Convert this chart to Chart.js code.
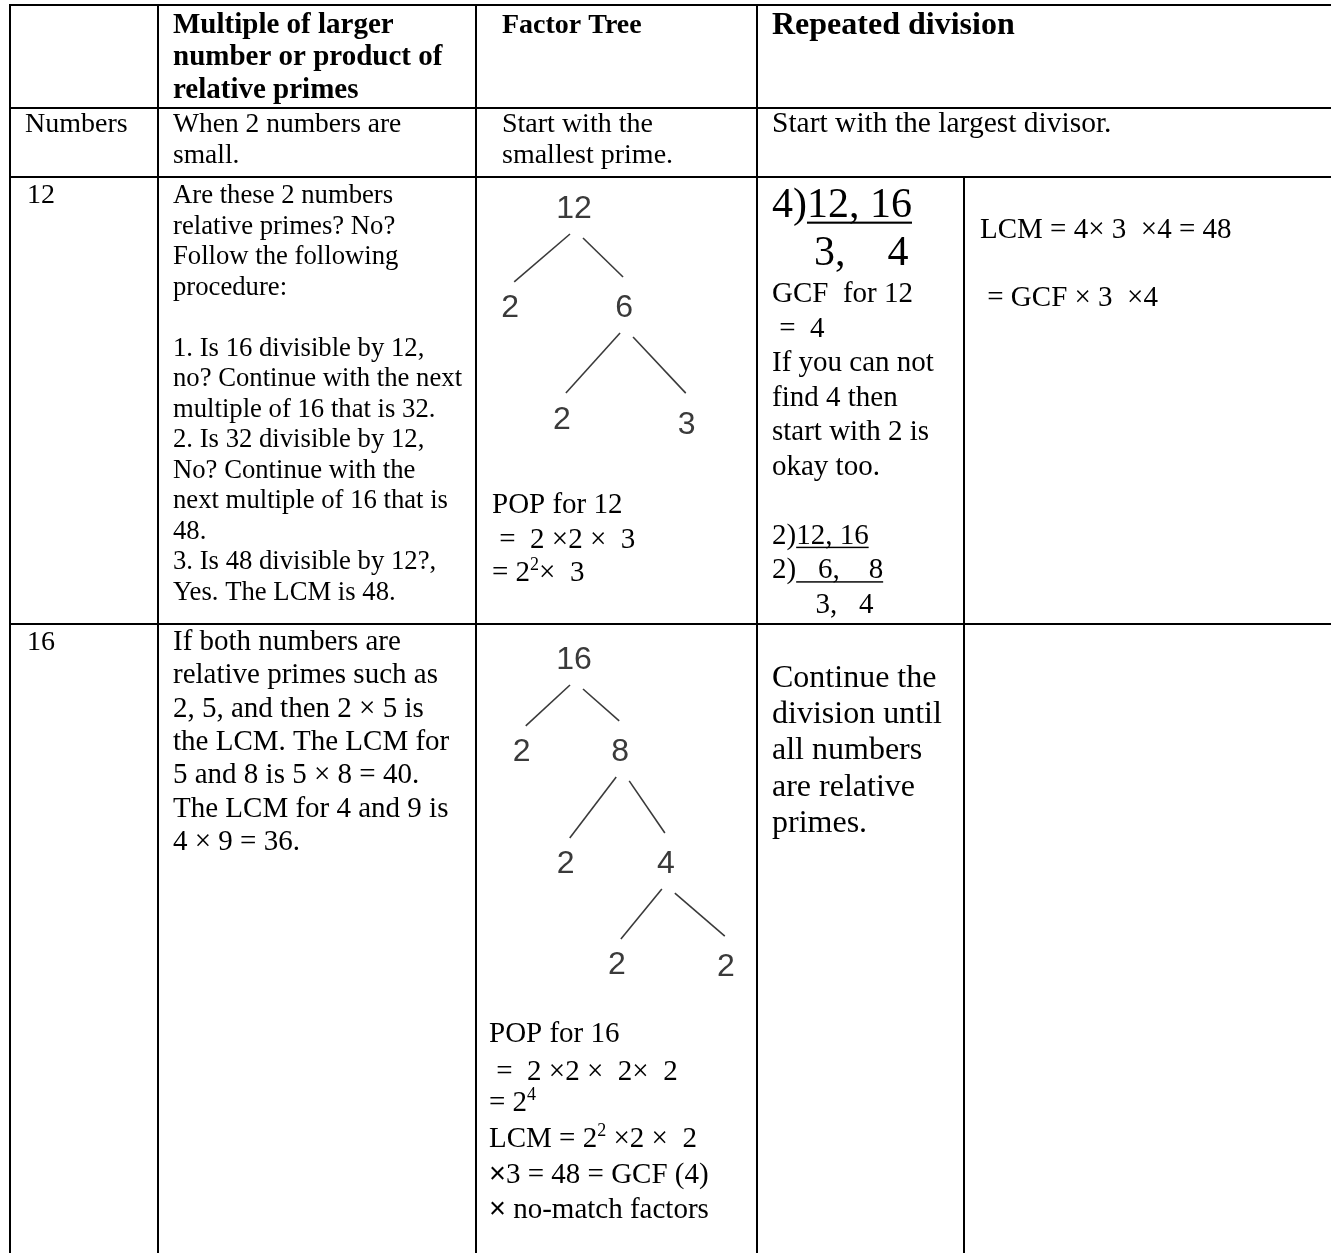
<!DOCTYPE html>
<html>
<head>
<meta charset="utf-8">
<script src="https://cdn.jsdelivr.net/npm/chart.js@4.4.1/dist/chart.umd.min.js"></script>
<style>
  html, body { margin: 0; padding: 0; background: #fff; }
  #wrap { position: relative; width: 1331px; height: 1253px; }
  canvas { display: block; }
</style>
</head>
<body>
<div id="wrap"><canvas id="c" width="1331" height="1253"></canvas></div>
<script>
// ---------------- DATA ----------------
// Text content of the table cells
const headerCol2 = ['Multiple of larger', 'number or product of', 'relative primes'];
const headerCol3 = ['Factor Tree'];
const headerCol4 = ['Repeated division'];

const rowNumbersLabel = ['Numbers'];
const rowNumbersCol2 = ['When 2 numbers are', 'small.'];
const rowNumbersCol3 = ['Start with the', 'smallest prime.'];
const rowNumbersCol4 = ['Start with the largest divisor.'];

const row12Label = ['12'];
const row12Col2 = [
  'Are these 2 numbers', 'relative primes? No?', 'Follow the following', 'procedure:', '',
  '1. Is 16 divisible by 12,', 'no? Continue with the next', 'multiple of 16 that is 32.',
  '2. Is 32 divisible by 12,', 'No? Continue with the', 'next multiple of 16 that is', '48.',
  '3. Is 48 divisible by 12?,', 'Yes. The LCM is 48.'
];
const row12Pop = ['POP for 12', ' =  2 \u00d72 \u00d7  3', [{t:'= 2'}, {t:'2', sup:1}, {t:'\u00d7  3'}]];
const row12DivBig = [[{t:'4)'}, {t:'12, 16', u:1}], '    3,    4'];
const row12DivText = [
  'GCF  for 12', ' =  4', 'If you can not', 'find 4 then', 'start with 2 is', 'okay too.', '',
  [{t:'2)'}, {t:'12, 16', u:1}], [{t:'2)'}, {t:'   6,    8', u:1}], '      3,   4'
];
const row12Lcm = ['LCM = 4\u00d7 3  \u00d74 = 48', '', ' = GCF \u00d7 3  \u00d74'];

const row16Label = ['16'];
const row16Col2 = [
  'If both numbers are', 'relative primes such as', '2, 5, and then 2 \u00d7 5 is',
  'the LCM. The LCM for', '5 and 8 is 5 \u00d7 8 = 40.', 'The LCM for 4 and 9 is', '4 \u00d7 9 = 36.'
];
const row16Pop = [
  'POP for 16', ' =  2 \u00d72 \u00d7  2\u00d7  2', [{t:'= 2'}, {t:'4', sup:1}],
  [{t:'LCM = 2'}, {t:'2', sup:1}, {t:' \u00d72 \u00d7  2'}],
  [{t:'\u00d7', sans:1}, {t:'3 = 48 = GCF (4)'}],
  [{t:'\u00d7', sans:1}, {t:' no-match factors'}]
];
const row16Div = ['Continue the', 'division until', 'all numbers', 'are relative', 'primes.'];

// Factor trees: label, horizontal slot, depth level, parent index
const tree12Labels = ['12', '2', '6', '2', '3'];
const tree12Slot   = [0, -1.16, 0.91, -0.22, 2.05];
const tree12Depth  = [0, 0.98, 0.98, 2.08, 2.13];
const tree12Parent = [-1, 0, 0, 2, 2];

const tree16Labels = ['16', '2', '8', '2', '4', '2', '2'];
const tree16Slot   = [0, -0.95, 0.84, -0.15, 1.67, 0.78, 2.76];
const tree16Depth  = [0, 0.91, 0.91, 2.02, 2.02, 3.02, 3.04];
const tree16Parent = [-1, 0, 0, 2, 2, 4, 4];

// ---------------- LAYOUT ----------------
const W = 1331, H = 1253;
const fullColX = [10, 158, 476, 757];   // vertical rules spanning whole height
const subColX = [964];                   // vertical rule inside "Repeated division"
const rowY = [5, 108, 177, 624];         // horizontal rules
const tableLeft = 9, tableTop = 4, subTop = 177;

const SERIF = 'Liberation Serif';
const textBlocks = [
  {lines: headerCol2, x: 173, y: 33, lh: 32.3, size: 29, bold: true},
  {lines: headerCol3, x: 502, y: 33, lh: 32, size: 28, bold: true},
  {lines: headerCol4, x: 772, y: 34, lh: 36, size: 32, bold: true},
  {lines: rowNumbersLabel, x: 25, y: 132, lh: 31, size: 28},
  {lines: rowNumbersCol2, x: 173, y: 132, lh: 31, size: 27.5},
  {lines: rowNumbersCol3, x: 502, y: 132, lh: 31, size: 28},
  {lines: rowNumbersCol4, x: 772, y: 132, lh: 31, size: 29.5},
  {lines: row12Label, x: 27, y: 203, lh: 31, size: 28},
  {lines: row12Col2, x: 173, y: 203, lh: 30.5, size: 26.7},
  {lines: row12Pop, x: 492, ys: [513, 548, 581], size: 29},
  {lines: row12DivBig, x: 772, ys: [217, 265], size: 42},
  {lines: row12DivText, x: 772, y: 302, lh: 34.5, size: 29},
  {lines: row12Lcm, x: 980, y: 238, lh: 34, size: 29},
  {lines: row16Label, x: 27, y: 650, lh: 33, size: 28},
  {lines: row16Col2, x: 173, y: 650, lh: 33.3, size: 29},
  {lines: row16Pop, x: 489, ys: [1042, 1080, 1111, 1147, 1183, 1218], size: 29},
  {lines: row16Div, x: 772, y: 687, lh: 36.2, size: 32}
];

const trees = [
  {id: 't12', labels: tree12Labels, slot: tree12Slot, depth: tree12Depth, parent: tree12Parent, root: [574, 207]},
  {id: 't16', labels: tree16Labels, slot: tree16Slot, depth: tree16Depth, parent: tree16Parent, root: [574, 658]}
];
const treeUnit = {x: 55, y: 101};
const treeFont = {family: 'Liberation Sans', size: 32, color: '#3a3a3a'};
const edgeOffsets = { // pixel offsets from node centres
  left:  {sx: -4, sy: 27, ex: 4, ey: -24},
  right: {sx: 9,  sy: 31, ex: -1, ey: -29}
};

// ---------------- BUILD DATASETS ----------------
const datasets = [];
function rule(points) {
  datasets.push({
    data: points, showLine: true, borderColor: '#000', borderWidth: 2,
    pointRadius: 0, fill: false, clip: false, tension: 0, xAxisID: 'x', yAxisID: 'y'
  });
}
fullColX.forEach(x => rule([{x: x, y: tableTop}, {x: x, y: H}]));
subColX.forEach(x => rule([{x: x, y: subTop}, {x: x, y: H}]));
rowY.forEach(y => rule([{x: tableLeft, y: y}, {x: W, y: y}]));

const scales = {
  x: {type: 'linear', min: 0, max: W, display: false},
  y: {type: 'linear', min: 0, max: H, reverse: true, display: false}
};

trees.forEach(t => {
  const xs = 'x' + t.id, ys = 'y' + t.id;
  scales[xs] = {type: 'linear', axis: 'x', position: 'bottom', display: false,
    min: -t.root[0] / treeUnit.x, max: (W - t.root[0]) / treeUnit.x};
  scales[ys] = {type: 'linear', axis: 'y', position: 'left', display: false, reverse: true,
    min: -t.root[1] / treeUnit.y, max: (H - t.root[1]) / treeUnit.y};
  // edges
  t.parent.forEach((p, i) => {
    if (p < 0) return;
    const o = t.slot[i] < t.slot[p] ? edgeOffsets.left : edgeOffsets.right;
    datasets.push({
      data: [
        {x: t.slot[p] + o.sx / treeUnit.x, y: t.depth[p] + o.sy / treeUnit.y},
        {x: t.slot[i] + o.ex / treeUnit.x, y: t.depth[i] + o.ey / treeUnit.y}
      ],
      showLine: true, borderColor: '#3a3a3a', borderWidth: 1.6, pointRadius: 0,
      fill: false, clip: false, xAxisID: xs, yAxisID: ys
    });
  });
  // nodes
  datasets.push({
    treeLabels: t.labels,
    data: t.slot.map((s, i) => ({x: s, y: t.depth[i]})),
    showLine: false, pointRadius: 0, clip: false, xAxisID: xs, yAxisID: ys
  });
});

// ---------------- TEXT PLUGIN ----------------
function drawRich(ctx, line, x, y, size, bold) {
  const segs = typeof line === 'string' ? [{t: line}] : line;
  let cx = x;
  segs.forEach(s => {
    const sz = s.sup ? size * 0.62 : size;
    const fam = s.sans ? 'Liberation Sans' : SERIF;
    ctx.font = (bold ? 'bold ' : '') + sz + 'px "' + fam + '"';
    const yy = s.sup ? y - size * 0.38 : y;
    ctx.fillText(s.t, cx, yy);
    const w = ctx.measureText(s.t).width;
    if (s.u) ctx.fillRect(cx, y + size * 0.11, w, Math.max(1.2, size * 0.05));
    cx += w;
  });
}

const textPlugin = {
  id: 'tableText',
  afterDatasetsDraw(chart) {
    const ctx = chart.ctx;
    const sx = chart.scales.x, sy = chart.scales.y;
    ctx.save();
    ctx.fillStyle = '#000';
    ctx.textAlign = 'left';
    ctx.textBaseline = 'alphabetic';
    textBlocks.forEach(b => {
      b.lines.forEach((ln, i) => {
        if (ln === '') return;
        const yv = b.ys ? b.ys[i] : b.y + i * b.lh;
        drawRich(ctx, ln, sx.getPixelForValue(b.x), sy.getPixelForValue(yv), b.size, b.bold);
      });
    });
    // tree node labels at the library's point positions
    ctx.fillStyle = treeFont.color;
    ctx.textAlign = 'center';
    ctx.font = treeFont.size + 'px "' + treeFont.family + '"';
    chart.data.datasets.forEach((ds, di) => {
      if (!ds.treeLabels) return;
      const meta = chart.getDatasetMeta(di);
      meta.data.forEach((pt, j) => {
        ctx.fillText(ds.treeLabels[j], pt.x, pt.y + treeFont.size * 0.358);
      });
    });
    ctx.restore();
  }
};

new Chart(document.getElementById('c'), {
  type: 'scatter',
  data: {datasets: datasets},
  options: {
    responsive: false,
    animation: false,
    devicePixelRatio: 1,
    events: [],
    layout: {padding: 0},
    plugins: {legend: {display: false}, tooltip: {enabled: false}},
    scales: scales
  },
  plugins: [textPlugin]
});
</script>
</body>
</html>
